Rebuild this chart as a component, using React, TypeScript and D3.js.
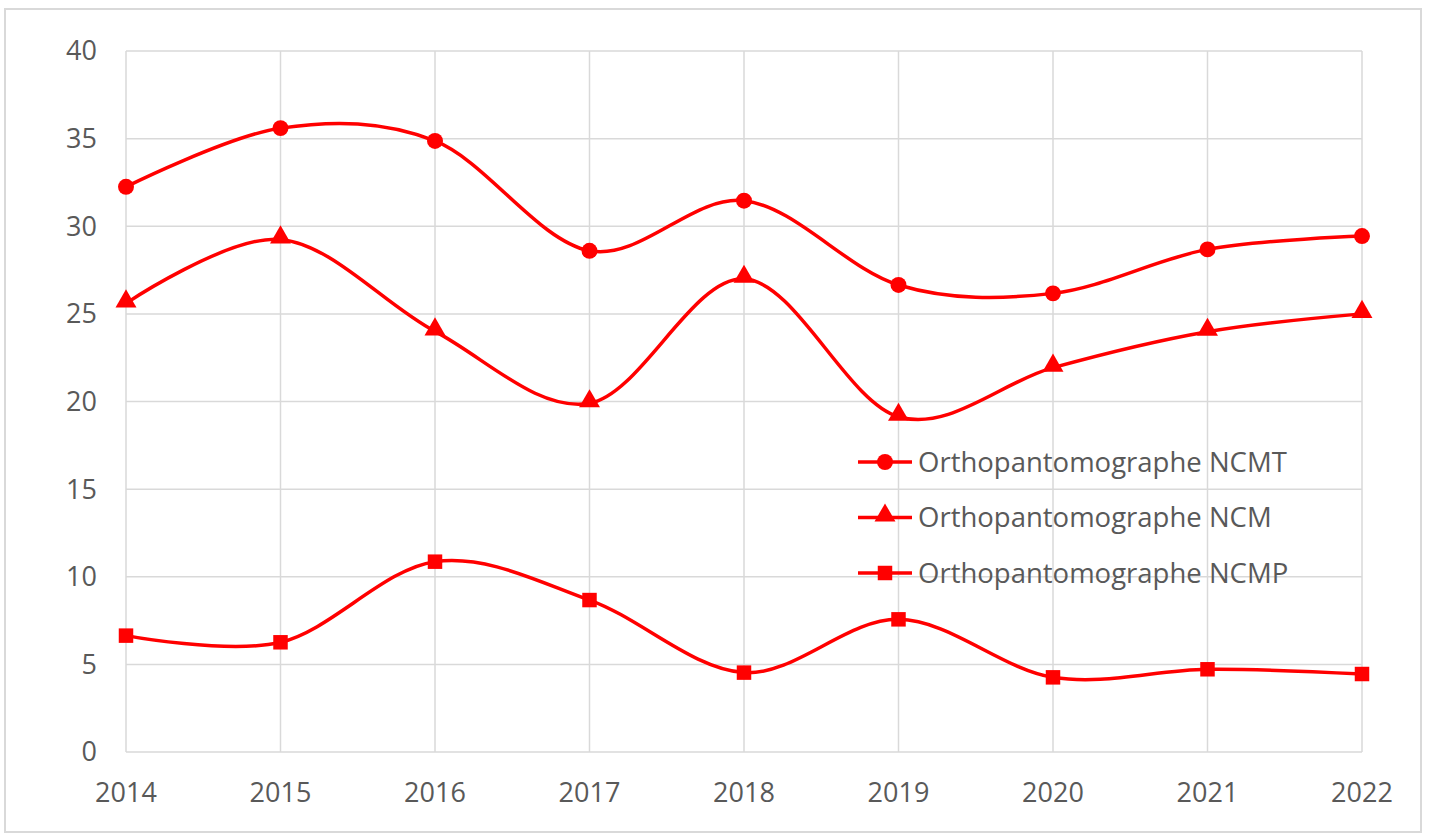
import * as d3 from 'd3';
import React, { useRef, useEffect } from 'react';

const years = ['2014', '2015', '2016', '2017', '2018', '2019', '2020', '2021', '2022'];
const ncmt = [32.25, 35.6, 34.87, 28.6, 31.46, 26.65, 26.17, 28.68, 29.44];
const ncm = [25.6, 29.25, 24.0, 19.9, 27.0, 19.13, 21.93, 23.98, 25.0];
const ncmp = [6.64, 6.26, 10.86, 8.67, 4.53, 7.57, 4.26, 4.72, 4.45];
const yTicks = [0, 5, 10, 15, 20, 25, 30, 35, 40];
const seriesNames = ['Orthopantomographe NCMT', 'Orthopantomographe NCM', 'Orthopantomographe NCMP'];

const W = 1429;
const H = 837;
const RED = '#ff0000';
const TEXT = '#595959';
const GRID = '#d9d9d9';

function App() {
  const ref = useRef(null);

  useEffect(() => {
    const svg = d3.select(ref.current);
    svg.selectAll('*').remove();

    svg
      .append('rect')
      .attr('x', 5)
      .attr('y', 9)
      .attr('width', 1416)
      .attr('height', 823)
      .attr('fill', '#fff')
      .attr('stroke', GRID)
      .attr('stroke-width', 2);

    const x = d3.scalePoint().domain(years).range([126, 1362]);
    const y = d3.scaleLinear().domain([0, 40]).range([752, 51]);

    // grid
    svg
      .append('g')
      .selectAll('line')
      .data(yTicks)
      .enter()
      .append('line')
      .attr('x1', 126)
      .attr('x2', 1362)
      .attr('y1', (d) => y(d))
      .attr('y2', (d) => y(d))
      .attr('stroke', GRID)
      .attr('stroke-width', 1.5);

    svg
      .append('g')
      .selectAll('line')
      .data(years)
      .enter()
      .append('line')
      .attr('x1', (d) => x(d))
      .attr('x2', (d) => x(d))
      .attr('y1', y(0))
      .attr('y2', y(40))
      .attr('stroke', GRID)
      .attr('stroke-width', 1.5);

    const font = '"Open Sans", sans-serif';

    // y labels
    svg
      .append('g')
      .selectAll('text')
      .data(yTicks)
      .enter()
      .append('text')
      .attr('x', 97)
      .attr('y', (d) => y(d))
      .attr('dy', '0.35em')
      .attr('text-anchor', 'end')
      .attr('fill', TEXT)
      .style('font-family', font)
      .style('font-size', '27px')
      .text((d) => d);

    // x labels
    svg
      .append('g')
      .selectAll('text')
      .data(years)
      .enter()
      .append('text')
      .attr('x', (d) => x(d))
      .attr('y', 802)
      .attr('text-anchor', 'middle')
      .attr('fill', TEXT)
      .style('font-family', font)
      .style('font-size', '27px')
      .text((d) => d);

    const line = d3
      .line()
      .x((d, i) => x(years[i]))
      .y((d) => y(d))
      .curve(d3.curveCardinal.tension(0));

    const symbols = [d3.symbolCircle, d3.symbolTriangle, d3.symbolSquare];
    const sizes = [200, 190, 210];
    const allSeries = [ncmt, ncm, ncmp];

    allSeries.forEach((values, si) => {
      svg
        .append('path')
        .datum(values)
        .attr('d', line)
        .attr('fill', 'none')
        .attr('stroke', RED)
        .attr('stroke-width', 3.5);

      const sym = d3.symbol().type(symbols[si]).size(sizes[si]);
      svg
        .append('g')
        .selectAll('path')
        .data(values)
        .enter()
        .append('path')
        .attr('d', sym)
        .attr('transform', (d, i) => `translate(${x(years[i])}, ${y(d) - (si === 1 ? 2 : 0)})`)
        .attr('fill', RED);
    });

    // legend
    const legend = svg.append('g');
    seriesNames.forEach((name, i) => {
      const ly = 462 + i * 55.5;
      legend
        .append('line')
        .attr('x1', 858)
        .attr('x2', 912)
        .attr('y1', ly)
        .attr('y2', ly)
        .attr('stroke', RED)
        .attr('stroke-width', 3.5);
      legend
        .append('path')
        .attr('d', d3.symbol().type(symbols[i]).size(sizes[i]))
        .attr('transform', `translate(885, ${ly - (i === 1 ? 2 : 0)})`)
        .attr('fill', RED);
      legend
        .append('text')
        .attr('x', 918)
        .attr('y', ly)
        .attr('dy', '0.35em')
        .attr('fill', TEXT)
        .style('font-family', font)
        .style('font-size', '27.5px')
        .text(name);
    });
  }, []);

  return (
    <svg
      ref={ref}
      width={W}
      height={H}
      style={{ position: 'absolute', left: 0, top: 0, background: '#fff' }}
    />
  );
}

export default App;
